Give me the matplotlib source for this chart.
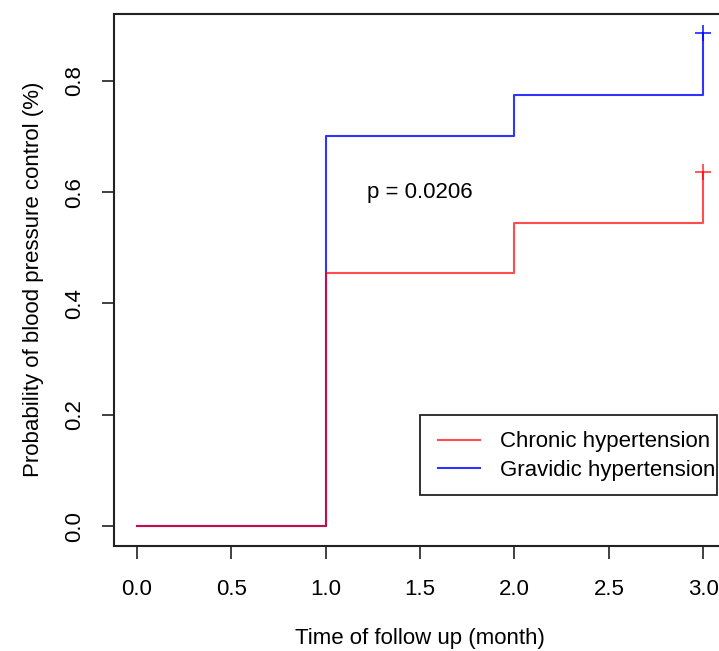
"""
Cumulative probability of blood pressure control by hypertension type.
"""
import matplotlib
matplotlib.use('Agg')
import matplotlib.pyplot as plt
from matplotlib.patches import Rectangle

plt.rcParams['font.family'] = ['Liberation Sans', 'DejaVu Sans']

# follow-up times (month) and cumulative probability of control
times = [0, 1, 2, 3]
chronic = [0.0, 0.455, 0.545, 0.636]
gravidic = [0.0, 0.700, 0.775, 0.886]

groups = ['Chronic hypertension', 'Gravidic hypertension']
colors = ['#ff0000', '#0000ff']
p_text = 'p = 0.0206'

x_ticks = [0.0, 0.5, 1.0, 1.5, 2.0, 2.5, 3.0]
y_ticks = [0.0, 0.2, 0.4, 0.6, 0.8]

FS = 16
W, H = 719, 651

fig = plt.figure(figsize=(W / 100, H / 100), dpi=100)
ax = fig.add_axes([0.1586, 0.1619, 0.8512, 0.8166])

# blue first, red drawn over it (shared segment looks purple)
ax.step(times, gravidic, where='post', color=colors[1], lw=1.5, alpha=0.8,
        label=groups[1])
ax.step(times, chronic, where='post', color=colors[0], lw=1.5, alpha=0.7,
        label=groups[0])
# censor marks at the end of follow-up
ax.plot(times[-1], gravidic[-1], '+', color=colors[1], ms=11, mew=1.3, alpha=0.8)
ax.plot(times[-1], chronic[-1], '+', color=colors[0], ms=11, mew=1.3, alpha=0.7)

ax.text(1.22, 0.599, p_text, fontsize=FS, va='center', ha='left')

ax.set_xlim(-0.12, 3.12)
ax.set_ylim(-0.035, 0.92)
ax.set_xticks(x_ticks)
ax.set_xticklabels([f'{v:.1f}' for v in x_ticks])
ax.set_yticks(y_ticks)
ax.set_yticklabels([f'{v:.1f}' for v in y_ticks], rotation=90, va='center')
ax.tick_params(axis='both', direction='out', length=9, width=1.3,
               color='#333333', labelsize=FS)
ax.tick_params(axis='x', pad=15)
ax.tick_params(axis='y', pad=12)

for s in ax.spines.values():
    s.set_linewidth(1.5)
    s.set_color('#222222')

ax.set_xlabel('Time of follow up (month)', fontsize=FS, labelpad=20)
ax.set_ylabel('Probability of blood pressure control (%)', fontsize=FS,
              labelpad=14)

# R-style legend: tight box drawn by hand, entries placed inside it
fig.patches.append(Rectangle((420 / W, 1 - 495 / H), 297 / W, 80 / H,
                             transform=fig.transFigure, fill=False,
                             edgecolor='#222222', lw=1.3))
handles, labels = ax.get_legend_handles_labels()
ax.legend(handles[::-1], labels[::-1], loc='center left',
          bbox_to_anchor=(438 / W, 1 - 456 / H),
          bbox_transform=fig.transFigure,
          fontsize=FS, frameon=False,
          handlelength=1.9, handletextpad=0.9, borderpad=0,
          labelspacing=0.32, borderaxespad=0)

fig.savefig('out.png', dpi=100)
